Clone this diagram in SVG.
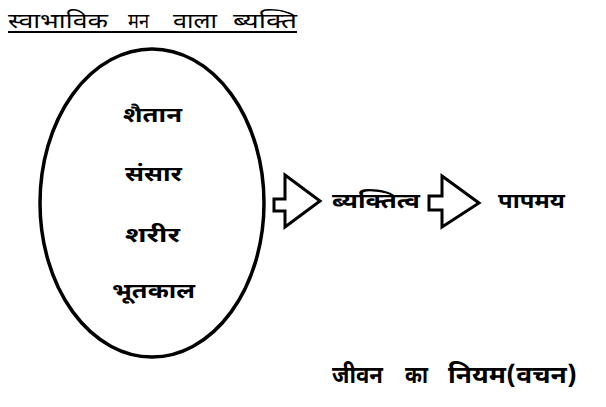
<svg xmlns="http://www.w3.org/2000/svg" width="606" height="407" viewBox="0 0 606 407">
<style>
.t{font-family:"Noto Sans Devanagari","Noto Sans","Liberation Sans",sans-serif;fill:#000}
.b{font-weight:bold}
.shape{fill:none;stroke:#000;stroke-width:3.5}
.arr{fill:#fff;stroke:#000;stroke-width:3;stroke-linejoin:miter}
</style>
<rect width="606" height="407" fill="#fff"/>
<g id="title">
<text class="t" x="8" y="28" font-size="21" textLength="100" lengthAdjust="spacingAndGlyphs">स्वाभाविक</text>
<text class="t" x="128" y="28" font-size="21" textLength="21" lengthAdjust="spacingAndGlyphs">मन</text>
<text class="t" x="173" y="28" font-size="21" textLength="44" lengthAdjust="spacingAndGlyphs">वाला</text>
<text class="t" x="233" y="28" font-size="21" textLength="64" lengthAdjust="spacingAndGlyphs">ब्यक्ति</text>
<line x1="8" y1="32" x2="297" y2="32" stroke="#000" stroke-width="1.8"/>
</g>
<g id="mind">
<ellipse class="shape" cx="152" cy="203" rx="112" ry="154"/>
<text class="t b" x="123" y="122" font-size="21" textLength="59" lengthAdjust="spacingAndGlyphs">शैतान</text>
<text class="t b" x="125" y="181" font-size="21" textLength="57" lengthAdjust="spacingAndGlyphs">संसार</text>
<text class="t b" x="125" y="242" font-size="21" textLength="55" lengthAdjust="spacingAndGlyphs">शरीर</text>
<text class="t b" x="112" y="298" font-size="21" textLength="83" lengthAdjust="spacingAndGlyphs">भूतकाल</text>
</g>
<g id="connectors">
<path class="arr" d="M274,199 L285,199 L285,175 L320,201 L285,227 L285,211 L274,211 Z"/>
<path class="arr" d="M429,196 L442,196 L442,176 L479,203 L442,227 L442,210 L429,210 Z"/>
</g>
<g id="personality">
<text class="t b" x="332" y="208" font-size="20" textLength="88" lengthAdjust="spacingAndGlyphs">ब्यक्तित्व</text>
</g>
<g id="sinful">
<text class="t b" x="498" y="208" font-size="20" textLength="67" lengthAdjust="spacingAndGlyphs">पापमय</text>
</g>
<g id="law">
<text class="t b" x="332" y="383" font-size="24" textLength="51" lengthAdjust="spacingAndGlyphs">जीवन</text>
<text class="t b" x="405" y="383" font-size="24" textLength="23" lengthAdjust="spacingAndGlyphs">का</text>
<text class="t b" x="448" y="383" font-size="24" textLength="129" lengthAdjust="spacingAndGlyphs">नियम(वचन)</text>
</g>
</svg>
